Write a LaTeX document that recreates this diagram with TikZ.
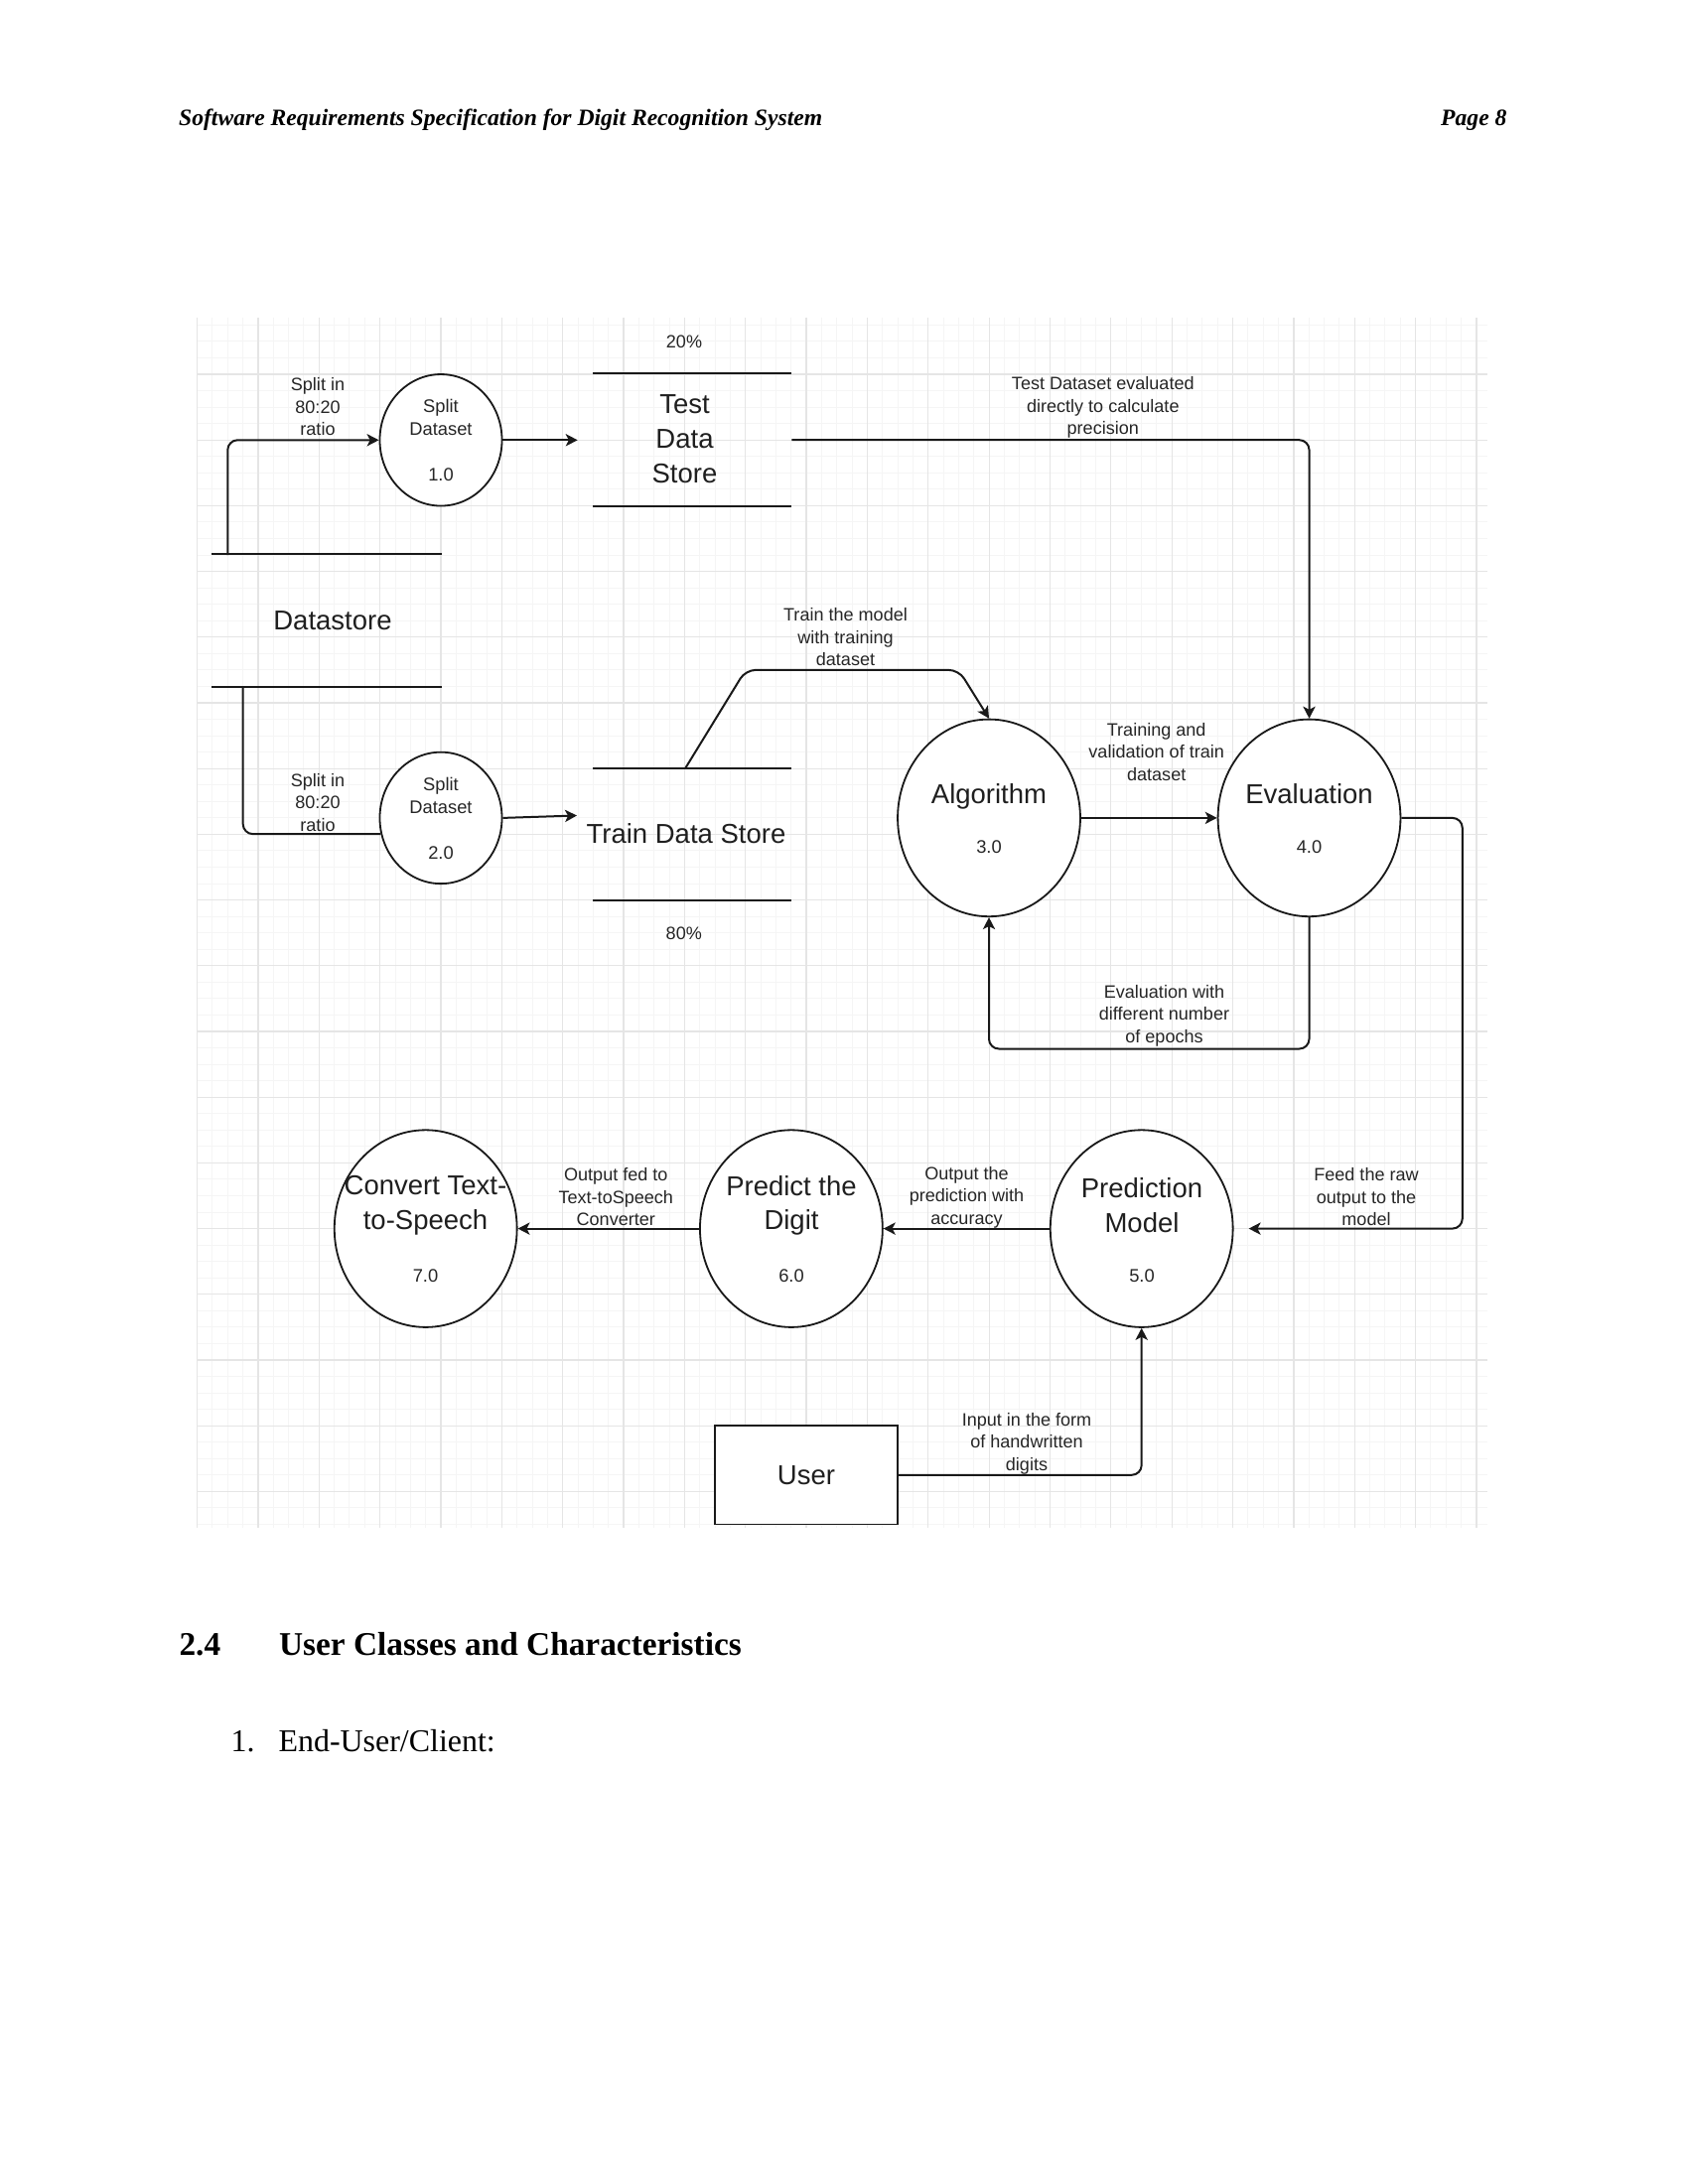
\documentclass[tikz,border=0pt]{standalone}
\usepackage{fontspec}
\setmainfont{Liberation Serif}
\newfontfamily\dsans{Liberation Sans}
\usetikzlibrary{shapes.geometric,arrows.meta}
\begin{document}
\begin{tikzpicture}[x=0.36pt,y=-0.36pt,
  gridminor/.style={draw=black!4,line width=0.35pt},
  gridmajor/.style={draw=black!10,line width=0.45pt},
  ln/.style={draw=black!90,line width=0.72pt},
  arr/.style={ln,-{Stealth[length=4.3pt,width=4.4pt,inset=1.1pt]}},
  proc/.style={ellipse,draw=black!90,line width=0.65pt,fill=white,inner sep=0pt},
  smallproc/.style={proc,minimum width=44.3pt,minimum height=47.7pt},
  bigproc/.style={proc,minimum width=66.2pt,minimum height=71.5pt},
  storeshape/.style={inner sep=0pt},
  lbl/.style={font=\dsans\fontsize{6.5}{8.1}\selectfont,align=center,text=black!85,inner sep=0pt},
  plbl/.style={font=\dsans\fontsize{6.6}{8.5}\selectfont,align=center,text=black!85,inner sep=0pt},
  biglbl/.style={font=\dsans\fontsize{9.9}{12.5}\selectfont,align=center,text=black!88,inner sep=0pt},
  doc/.style={inner sep=0pt,text=black}
]
\useasboundingbox (0,0) rectangle (1700,2200);
\fill[white] (0,0) rectangle (1700,2200);

% grid
\begin{scope}
\clip (198,320) rectangle (1498,1539);
\foreach \i in {0,...,87} {\draw[gridminor] ({198.6+\i*15.3375},320) -- ++(0,1219);}
\foreach \i in {-4,...,72} {\draw[gridminor] (198,{377+\i*16.55}) -- ++(1300,0);}
\foreach \i in {0,...,21} {\draw[gridmajor] ({198.6+\i*61.35},320) -- ++(0,1219);}
\foreach \i in {-1,...,18} {\draw[gridmajor] (198,{377+\i*66.2}) -- ++(1300,0);}
\end{scope}

% header and body text
\node[doc,anchor=base west,font=\bfseries\itshape\fontsize{8.5}{10}\selectfont] (hdr) at (179.6,127) {Software Requirements Specification for Digit Recognition System};
\node[doc,anchor=base east,font=\bfseries\itshape\fontsize{8.5}{10}\selectfont] (pg) at (1518,127) {Page 8};
\node[doc,anchor=base west,font=\bfseries\fontsize{12}{14}\selectfont] (secnum) at (180,1667) {2.4};
\node[doc,anchor=base west,font=\bfseries\fontsize{12}{14}\selectfont] (sectitle) at (280.6,1667) {User Classes and Characteristics};
\node[doc,anchor=base west,font=\fontsize{11.5}{14}\selectfont] (itemnum) at (232,1764) {1.};
\node[doc,anchor=base west,font=\fontsize{11.5}{14}\selectfont] (itemtxt) at (280,1764) {End-User/Client:};

% data stores
\node[storeshape,minimum width=82.8pt,minimum height=47.7pt] (ds) at (329,625.2) {};
\node[storeshape,minimum width=71.8pt,minimum height=47.7pt] (tst) at (697.2,443.2) {};
\node[storeshape,minimum width=71.8pt,minimum height=47.7pt] (trn) at (697.2,840.4) {};
\foreach \s in {ds,tst,trn} {
  \draw[ln] (\s.north west) -- (\s.north east);
  \draw[ln] (\s.south west) -- (\s.south east);
}
\node[biglbl,anchor=base] (dstxt) at (335,634.3) {Datastore};
\node[biglbl] (tsttxt) at (689.5,442) {Test\\Data\\Store};
\node[biglbl,anchor=base] (trntxt) at (691,849.1) {Train Data Store};
\node[lbl] (pct20) at (689,344.5) {20\%};
\node[lbl] (pct80) at (688.8,940) {80\%};

% processes
\node[smallproc] (p1) at (444,443.3) {};
\node[smallproc] (p2) at (444,823.9) {};
\node[bigproc] (alg) at (996,823.9) {};
\node[bigproc] (eval) at (1318.5,823.9) {};
\node[bigproc] (pm) at (1149.7,1237.6) {};
\node[bigproc] (pd) at (796.9,1237.6) {};
\node[bigproc] (tts) at (428.7,1237.6) {};
\node[draw=black!90,line width=0.65pt,fill=white,minimum width=66.2pt,minimum height=35.8pt,inner sep=0pt,
      font=\dsans\fontsize{9.9}{12.5}\selectfont,text=black!88] (user) at (812,1485.8) {User};

\node[plbl] (p1t) at (444,420.3) {Split\\Dataset};
\node[plbl,anchor=base] (p1n) at (444,484.7) {1.0};
\node[plbl] (p2t) at (444,801.5) {Split\\Dataset};
\node[plbl,anchor=base] (p2n) at (444,865.8) {2.0};
\node[biglbl,anchor=base] (algt) at (996,809.8) {Algorithm};
\node[plbl,anchor=base] (algn) at (996,859) {3.0};
\node[biglbl,anchor=base] (evalt) at (1318.5,809.8) {Evaluation};
\node[plbl,anchor=base] (evaln) at (1318.5,859) {4.0};
\node[biglbl] (pmt) at (1150,1214.3) {Prediction\\Model};
\node[plbl,anchor=base] (pmn) at (1150,1291) {5.0};
\node[biglbl] (pdt) at (797,1214.3) {Predict the\\Digit};
\node[plbl,anchor=base] (pdn) at (797,1291) {6.0};
\node[biglbl] (ttst) at (428.5,1214.3) {Convert Text-\\to-Speech};
\node[plbl,anchor=base] (ttsn) at (428.5,1291) {7.0};

% free ends
\coordinate (ds1) at (229.3,559);
\coordinate (ds2) at (244.7,691.5);
\coordinate (tstin) at (581.7,443.3);
\coordinate (trnin) at (581,821.5);
\coordinate (trn1) at (690,774.2);
\coordinate (pmin) at (1257.6,1237.6);

% connectors
\draw[arr,rounded corners=3.6pt] (ds1) |- (p1.west);
\draw[ln,rounded corners=3.6pt] (ds2) |- (p2.195);
\draw[arr] (p1.east) -- (tstin);
\draw[arr] (p2.east) -- (trnin);
\draw[arr,rounded corners=3.6pt] (tst.east) -| (eval.north);
\draw[arr,rounded corners=3.6pt] (trn1) -- (750.9,674.9) -- (965.6,674.9) -- (alg.north);
\draw[arr] (alg.east) -- (eval.west);
\draw[arr,rounded corners=3.6pt] (eval.south) -- ++(0,132.4) -| (alg.south);
\draw[arr,rounded corners=3.6pt] (eval.east) -- ++(61.4,0) |- (pmin);
\draw[arr] (pm.west) -- (pd.east);
\draw[arr] (pd.west) -- (tts.east);
\draw[arr,rounded corners=3.6pt] (user.east) -| (pm.south);

% connector labels
\node[lbl] (l1) at (320,410) {Split in\\80:20\\ratio};
\node[lbl] (l2) at (320,808.3) {Split in\\80:20\\ratio};
\node[lbl] (l3) at (1110.8,410.5) {Test Dataset evaluated\\directly to calculate\\precision};
\node[lbl] (l4) at (851.5,642) {Train the model\\with training\\dataset};
\node[lbl] (l5) at (1164.7,757.5) {Training and\\validation of train\\dataset};
\node[lbl] (l6) at (1172.5,1023) {Evaluation with\\different number\\of epochs};
\node[lbl] (l7) at (620.3,1206) {Output fed to\\Text-toSpeech\\Converter};
\node[lbl] (l8) at (973.5,1206) {Output the\\prediction with\\accuracy};
\node[lbl] (l9) at (1376,1206) {Feed the raw\\output to the\\model};
\node[lbl] (l10) at (1034,1454) {Input in the form\\of handwritten\\digits};
\end{tikzpicture}
\end{document}
